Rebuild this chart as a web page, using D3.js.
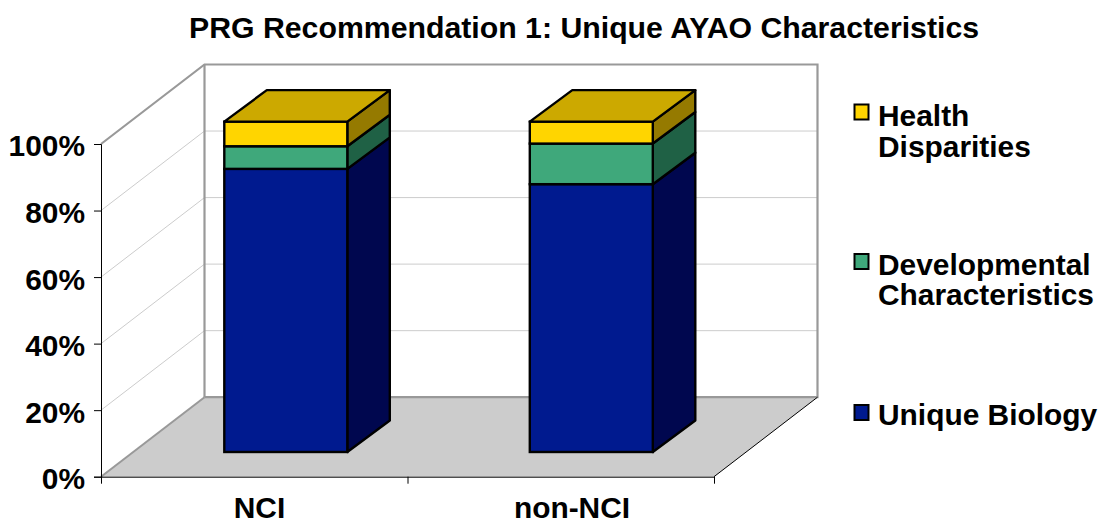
<!DOCTYPE html>
<html><head><meta charset="utf-8">
<script src="https://cdn.jsdelivr.net/npm/d3@7"></script>
<style>
html,body{margin:0;padding:0;background:#fff}
svg{display:block}
text{font-family:"Liberation Sans",Arial,sans-serif;font-weight:700;fill:#000}
</style></head><body>
<div id="chart"></div>
<script>
const titleText = "PRG Recommendation 1: Unique AYAO Characteristics";
const categories = ["NCI", "non-NCI"];
const uniqueBiology = [85.1, 80.5];
const developmental = [6.8, 12.2];
const healthDisparities = [7.4, 6.6];
const yTicks = [0, 20, 40, 60, 80, 100];
const frontColors = ["#001A8F", "#3FA87B", "#FFD500"];
const sideColors = ["#00074F", "#1F6145", "#957A00"];
const topColor = "#CCA900";
const legendItems = [
  {lines:["Health","Disparities"], color:"#FFD500", box:104.5, base:[125.5,156.5]},
  {lines:["Developmental","Characteristics"], color:"#3FA87B", box:254, base:[275,305]},
  {lines:["Unique Biology"], color:"#001A8F", box:405, base:[425]}
];

const W = 1103, H = 525;
const FS = 29.9;
const svg = d3.select("#chart").append("svg").attr("width", W).attr("height", H);

const y = d3.scaleLinear().domain([0, 100]).range([476.7, 144]);
const barX = d3.scalePoint().domain(categories).range([224.3, 529.8]);
const labelX = d3.scalePoint().domain(categories).range([259.5, 572]);
const barW = 123;
// depth projection of the 3-D box
const D = {x: 103.5, y: -79.5};
const barDepth = {x: 42.5, y: -31.5};
const barFrontOffsetY = -24.7;

const poly = d => d.map(p => p.join(",")).join(" ");
const x0 = 101, x1 = 714;
const y0 = y(0), y100 = y(100);

// floor
svg.append("polygon").attr("points", poly([[x0,y0],[x0+D.x,y0+D.y],[x1+D.x,y0+D.y],[x1,y0]])).attr("fill","#CCCCCC");

// gridlines
svg.append("g").selectAll("path").data(yTicks.filter(t => t > 0 && t < 100)).join("path")
  .attr("d", t => `M${x0},${y(t)}L${x0+D.x},${y(t)+D.y}L${x1+D.x},${y(t)+D.y}`)
  .attr("fill","none").attr("stroke","#CCCCCC").attr("stroke-width",1);

// walls
svg.append("path")
  .attr("d",`M${x0},${y100}L${x0+D.x},${y100+D.y}L${x1+D.x},${y100+D.y}L${x1+D.x},${y0+D.y}L${x0+D.x},${y0+D.y}`)
  .attr("fill","none").attr("stroke","#999999").attr("stroke-width",2.2);
svg.append("path").attr("d",`M${x0+D.x},${y100+D.y}V${y0+D.y}`).attr("stroke","#999999").attr("stroke-width",2.2);
svg.append("path").attr("d",`M${x0},${y0}L${x0+D.x},${y0+D.y}`).attr("stroke","#999999").attr("stroke-width",2);
svg.append("path").attr("d",`M${x1},${y0}L${x1+D.x},${y0+D.y}`).attr("stroke","#000").attr("stroke-width",1);

// bars
const series = [uniqueBiology, developmental, healthDisparities];
const stacked = d3.stack().keys([0,1,2]).value((d,k) => series[k][d])(categories.map((c,i) => i));
const barsG = svg.append("g");
categories.forEach((cat, ci) => {
  const lx = barX(cat), rx = lx + barW;
  const py = v => y(v) + barFrontOffsetY;
  const g = barsG.append("g");
  stacked.forEach((layer, si) => {
    const [a, b] = layer[ci];
    g.append("polygon")
      .attr("points", poly([[rx,py(a)],[rx+barDepth.x,py(a)+barDepth.y],[rx+barDepth.x,py(b)+barDepth.y],[rx,py(b)]]))
      .attr("fill", sideColors[si]).attr("stroke","#000").attr("stroke-width",2.4).attr("stroke-linejoin","round");
    g.append("rect").attr("x",lx).attr("y",py(b)).attr("width",barW).attr("height",py(a)-py(b))
      .attr("fill", frontColors[si]).attr("stroke","#000").attr("stroke-width",2.4);
  });
  const topV = stacked[2][ci][1];
  g.append("polygon")
    .attr("points", poly([[lx,py(topV)],[lx+barDepth.x,py(topV)+barDepth.y],[rx+barDepth.x,py(topV)+barDepth.y],[rx,py(topV)]]))
    .attr("fill", topColor).attr("stroke","#000").attr("stroke-width",2.4).attr("stroke-linejoin","round");
});

// axes
const yAxis = d3.axisLeft(y).tickValues(yTicks).tickFormat(d => d + "%").tickSize(7).tickPadding(9);
const yG = svg.append("g").attr("transform",`translate(${x0},0)`).call(yAxis);
yG.selectAll("text").attr("font-size",FS).attr("dy","0.40em").style("fill","#000");
yG.selectAll("line,path").attr("stroke","#000").attr("stroke-width",1);

const xAxis = d3.axisBottom(d3.scaleLinear().domain([0,2]).range([x0,x1])).tickValues([0,1,2]).tickFormat("").tickSize(7).tickSizeOuter(0);
const xG = svg.append("g").attr("transform",`translate(0,${y0})`).call(xAxis);
xG.selectAll("line,path").attr("stroke","#000").attr("stroke-width",1);

svg.append("g").selectAll("text").data(categories).join("text")
  .attr("x", d => labelX(d)).attr("y", 518).attr("text-anchor","middle").attr("font-size",FS).text(d => d);

// title
svg.append("text").attr("x",584).attr("y",38).attr("text-anchor","middle").attr("font-size",30.25).text(titleText);

// legend
const leg = svg.append("g").selectAll("g").data(legendItems).join("g");
leg.append("rect").attr("x",854.5).attr("y",d=>d.box).attr("width",14).attr("height",15)
  .attr("fill",d=>d.color).attr("stroke","#000").attr("stroke-width",2);
leg.each(function(d){
  d3.select(this).selectAll("text").data(d.lines.map((l,i)=>({l,b:d.base[i]}))).join("text")
    .attr("x",878).attr("y",e=>e.b).attr("font-size",FS).text(e=>e.l);
});
</script></body></html>
